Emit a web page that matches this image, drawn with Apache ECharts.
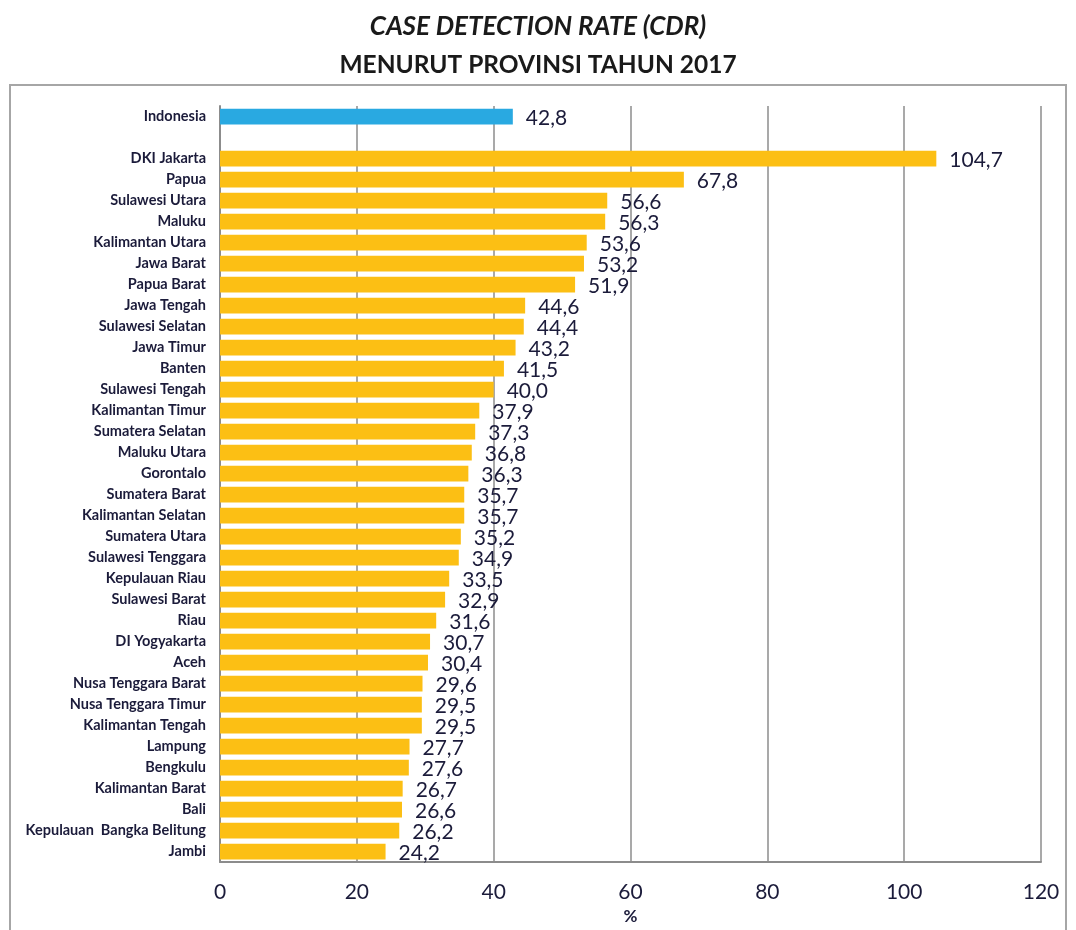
<!DOCTYPE html>
<html>
<head>
<meta charset="utf-8">
<script src="https://cdn.jsdelivr.net/npm/echarts@6/dist/echarts.min.js"></script>
<style>
  html, body { margin: 0; padding: 0; background: #fff; overflow: hidden; }
  #chart { width: 1076px; height: 930px; }
</style>
</head>
<body>
<div id="chart"></div>
<script>
// Provinces in display order (top to bottom); the blank entry separates the national figure.
const provinces = [
  'Indonesia', '',
  'DKI Jakarta', 'Papua', 'Sulawesi Utara', 'Maluku', 'Kalimantan Utara', 'Jawa Barat',
  'Papua Barat', 'Jawa Tengah', 'Sulawesi Selatan', 'Jawa Timur', 'Banten', 'Sulawesi Tengah',
  'Kalimantan Timur', 'Sumatera Selatan', 'Maluku Utara', 'Gorontalo', 'Sumatera Barat',
  'Kalimantan Selatan', 'Sumatera Utara', 'Sulawesi Tenggara', 'Kepulauan Riau', 'Sulawesi Barat',
  'Riau', 'DI Yogyakarta', 'Aceh', 'Nusa Tenggara Barat', 'Nusa Tenggara Timur',
  'Kalimantan Tengah', 'Lampung', 'Bengkulu', 'Kalimantan Barat', 'Bali',
  'Kepulauan  Bangka Belitung', 'Jambi'
];
// CDR (%) per entry, null for the spacer row
const cdrValues = [
  42.8, null,
  104.7, 67.8, 56.6, 56.3, 53.6, 53.2,
  51.9, 44.6, 44.4, 43.2, 41.5, 40.0,
  37.9, 37.3, 36.8, 36.3, 35.7,
  35.7, 35.2, 34.9, 33.5, 32.9,
  31.6, 30.7, 30.4, 29.6, 29.5,
  29.5, 27.7, 27.6, 26.7, 26.6,
  26.2, 24.2
];
const xTicks = [0, 20, 40, 60, 80, 100, 120];

const NATIONAL_COLOR = '#29A9E1';
const PROVINCE_COLOR = '#FCBF14';
const TEXT_COLOR = '#1b1b3a';
const FONT = 'Lato, "Open Sans", sans-serif';

const barData = cdrValues.map((v, i) => ({
  value: v,
  itemStyle: { color: provinces[i] === 'Indonesia' ? NATIONAL_COLOR : PROVINCE_COLOR }
}));

const chart = echarts.init(document.getElementById('chart'));
chart.setOption({
  animation: false,
  backgroundColor: '#fff',
  title: [
    {
      text: 'CASE DETECTION RATE (CDR)',
      left: 'center', top: 9,
      textStyle: { fontFamily: FONT, fontSize: 26, fontWeight: 'bold', fontStyle: 'italic', color: '#1a1a1a' }
    },
    {
      text: 'MENURUT PROVINSI TAHUN 2017',
      left: 'center', top: 48,
      textStyle: { fontFamily: FONT, fontSize: 24.5, fontWeight: 'bold', color: '#1a1a1a' }
    }
  ],
  graphic: [
    {
      type: 'rect',
      shape: { x: 10, y: 85, width: 1056, height: 870 },
      style: { fill: 'none', stroke: '#a6a6a6', lineWidth: 2 },
      silent: true
    }
  ],
  grid: { left: 220, right: 35, top: 106, bottom: 60, containLabel: false },
  xAxis: {
    type: 'value',
    min: xTicks[0],
    max: xTicks[xTicks.length - 1],
    interval: 20,
    name: '%',
    nameLocation: 'middle',
    nameGap: 44,
    nameTextStyle: { fontFamily: FONT, fontSize: 17, fontWeight: 'bold', color: TEXT_COLOR },
    axisLine: { show: true, lineStyle: { color: '#8c8c8c', width: 2 } },
    axisTick: { show: false },
    axisLabel: { fontFamily: FONT, fontSize: 21, color: TEXT_COLOR, margin: 20 },
    splitLine: { show: true, lineStyle: { color: '#8c8c8c', width: 1.5 } }
  },
  yAxis: {
    type: 'category',
    data: provinces,
    inverse: true,
    axisLine: { show: true, lineStyle: { color: '#8c8c8c', width: 2 } },
    axisTick: { show: false },
    axisLabel: { fontFamily: FONT, fontSize: 14.5, fontWeight: 'bold', color: TEXT_COLOR, margin: 14, interval: 0 }
  },
  series: [
    {
      type: 'bar',
      data: barData,
      barWidth: '75%',
      label: {
        show: true,
        position: 'right',
        distance: 13,
        offset: [0, 2],
        fontFamily: FONT,
        fontSize: 21,
        color: TEXT_COLOR,
        formatter: p => p.value == null ? '' : p.value.toFixed(1).replace('.', ',')
      }
    }
  ]
});
</script>
</body>
</html>
